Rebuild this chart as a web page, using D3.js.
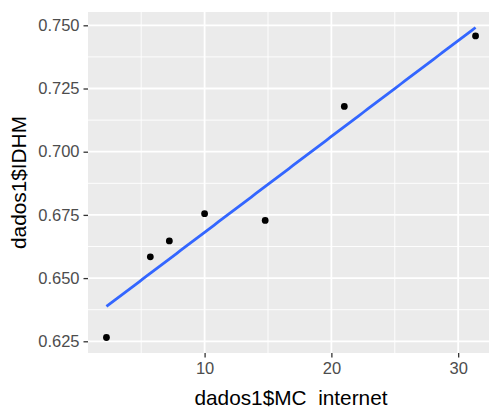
<!DOCTYPE html>
<html><head><meta charset="utf-8">
<script src="https://cdn.jsdelivr.net/npm/d3@7"></script>
<style>body{margin:0;background:#fff}svg{display:block}</style>
</head><body>
<svg id="c" width="489" height="409"></svg>
<script>
const mcInternet = [2.26, 5.72, 7.22, 10.0, 14.78, 21.02, 31.37];
const idhm = [0.6265, 0.6584, 0.6647, 0.6755, 0.6728, 0.7179, 0.7458];
const xTicks = [10, 20, 30];
const xMinor = [5, 15, 25];
const yTicks = [0.625, 0.650, 0.675, 0.700, 0.725, 0.750];
const yMinor = [0.6375, 0.6625, 0.6875, 0.7125, 0.7375];
const xTitle = "dados1$MC_internet";
const yTitle = "dados1$IDHM";

const svg = d3.select("#c");
const L = 88, R = 494, T = 12, B = 353;

// linear fit (geom_smooth method = lm, se = FALSE)
const mx = d3.mean(mcInternet), my = d3.mean(idhm);
let sxy = 0, sxx = 0;
mcInternet.forEach((x, i) => { sxy += (x - mx) * (idhm[i] - my); sxx += (x - mx) ** 2; });
const slope = sxy / sxx, icpt = my - slope * mx;
const xr = d3.extent(mcInternet);
const fitPts = d3.range(80).map(i => { const x = xr[0] + (xr[1] - xr[0]) * i / 79; return [x, icpt + slope * x]; });

const allY = idhm.concat(fitPts.map(d => d[1]));
const yr = d3.extent(allY);
const ex = (xr[1] - xr[0]) * 0.05, ey = (yr[1] - yr[0]) * 0.05;
const x = d3.scaleLinear().domain([xr[0] - ex, xr[1] + ex]).range([L, R]);
const y = d3.scaleLinear().domain([yr[0] - ey, yr[1] + ey]).range([B, T]);

svg.append("defs").append("clipPath").attr("id", "clipT")
  .append("rect").attr("x", 0).attr("y", 0).attr("width", 489).attr("height", 406.4);

svg.append("rect").attr("x", L).attr("y", T).attr("width", R - L).attr("height", B - T).attr("fill", "#EBEBEB");
const g = svg.append("g");
xMinor.forEach(v => g.append("line").attr("x1", x(v)).attr("x2", x(v)).attr("y1", T).attr("y2", B).attr("stroke", "#fff").attr("stroke-width", 0.9));
yMinor.forEach(v => g.append("line").attr("y1", y(v)).attr("y2", y(v)).attr("x1", L).attr("x2", R).attr("stroke", "#fff").attr("stroke-width", 0.9));
xTicks.forEach(v => g.append("line").attr("x1", x(v)).attr("x2", x(v)).attr("y1", T).attr("y2", B).attr("stroke", "#fff").attr("stroke-width", 1.8));
yTicks.forEach(v => g.append("line").attr("y1", y(v)).attr("y2", y(v)).attr("x1", L).attr("x2", R).attr("stroke", "#fff").attr("stroke-width", 1.8));

// axes
const xa = svg.append("g").attr("transform", `translate(0,${B})`)
  .call(d3.axisBottom(x).tickValues(xTicks).tickSize(4.5).tickPadding(5).tickFormat(d3.format("d")));
const ya = svg.append("g").attr("transform", `translate(${L},0)`)
  .call(d3.axisLeft(y).tickValues(yTicks).tickSize(4.5).tickPadding(4).tickFormat(d3.format(".3f")));
[xa, ya].forEach(a => {
  a.select(".domain").remove();
  a.selectAll(".tick line").attr("stroke", "#333").attr("stroke-width", 1.3);
  a.selectAll(".tick text").attr("fill", "#4D4D4D").attr("font-family", "Liberation Sans, Arial, sans-serif").attr("font-size", 16.5);
});

// fit line
svg.append("path").datum(fitPts)
  .attr("d", d3.line().x(d => x(d[0])).y(d => y(d[1])))
  .attr("fill", "none").attr("stroke", "#3366FF").attr("stroke-width", 2.8);

// points
svg.append("g").selectAll("circle").data(mcInternet).join("circle")
  .attr("cx", d => x(d)).attr("cy", (d, i) => y(idhm[i])).attr("r", 3.4).attr("fill", "#000");

svg.append("text").attr("x", (L + R) / 2).attr("y", 405).attr("text-anchor", "middle")
  .attr("clip-path", "url(#clipT)")
  .attr("font-family", "Liberation Sans, Arial, sans-serif").attr("font-size", 20.8).attr("fill", "#000").text(xTitle);
svg.append("text").attr("transform", `translate(26,${(T + B) / 2}) rotate(-90)`).attr("text-anchor", "middle")
  .attr("font-family", "Liberation Sans, Arial, sans-serif").attr("font-size", 20.8).attr("fill", "#000").text(yTitle);
</script>
</body></html>
